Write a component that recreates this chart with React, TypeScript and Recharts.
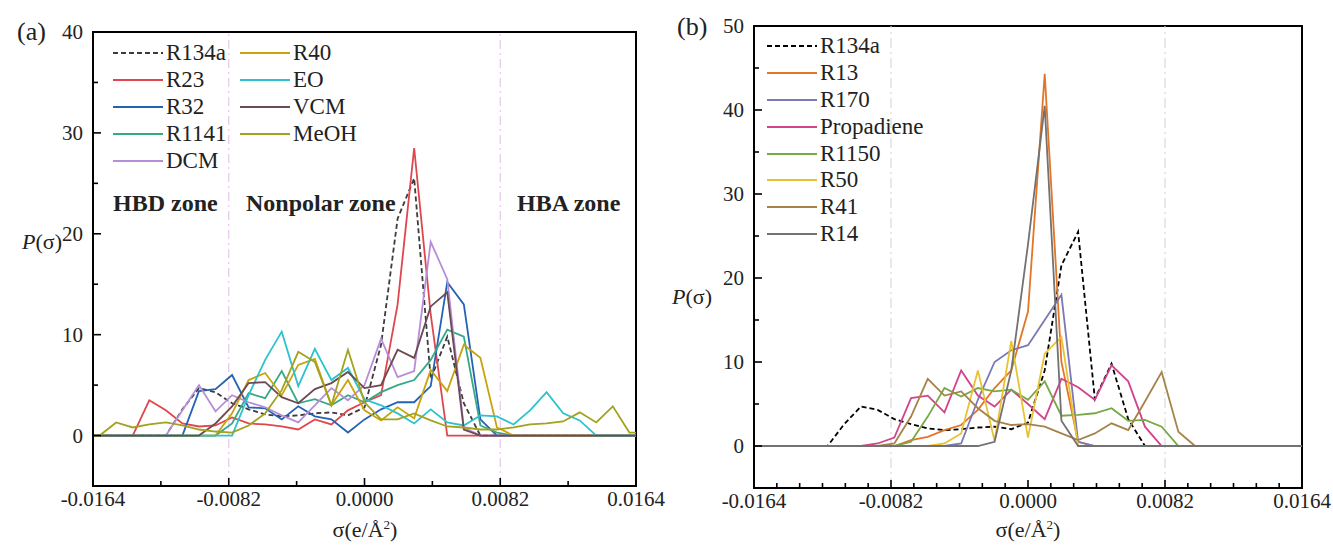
import { LineChart, Line, XAxis, YAxis, ReferenceLine, ReferenceArea, Legend } from 'recharts';

// sigma grid, e/Å²
const sigma = [-0.017, -0.016, -0.015, -0.014, -0.013, -0.012, -0.011, -0.010, -0.009, -0.008, -0.007, -0.006, -0.005, -0.004, -0.003, -0.002, -0.001, 0, 0.001, 0.002, 0.003, 0.004, 0.005, 0.006, 0.007, 0.008, 0.009, 0.010, 0.011, 0.012, 0.013, 0.014, 0.015, 0.016, 0.017];

// panel (a)
const r134a = [0, 0, 0, 0, 0, 0, 2.6, 4.7, 4.3, 3.2, 2.6, 2.1, 1.9, 2.0, 2.2, 2.3, 2.0, 2.8, 9, 21.5, 25.5, 5.6, 9.8, 3.2, 0, 0, 0, 0, 0, 0, 0, 0, 0, 0, 0];
const r23 = [0, 0, 0, 0, 3.5, 2.5, 1.2, 0.9, 1.0, 1.8, 1.2, 1.1, 0.9, 0.6, 1.6, 1.1, 2.5, 3.3, 4, 13, 28.5, 12, 0, 0, 0, 0, 0, 0, 0, 0, 0, 0, 0, 0, 0];
const r32 = [0, 0, 0, 0, 0, 0, 0, 4.4, 4.6, 6.0, 2.8, 2.7, 1.6, 2.9, 1.9, 1.6, 0.3, 1.6, 2.6, 3.3, 3.3, 4.9, 15.2, 13, 1.6, 0, 0, 0, 0, 0, 0, 0, 0, 0, 0];
const r1141 = [0, 0, 0, 0, 0, 0, 0, 0, 0, 1.2, 4.2, 3.7, 6.4, 3.2, 3.6, 3.0, 4.0, 3.3, 4.3, 5.0, 5.5, 7.5, 10.5, 9.8, 1.0, 0.3, 0, 0, 0, 0, 0, 0, 0, 0, 0];
const dcm = [0, 0, 0, 0, 0, 0, 2.5, 5.0, 2.4, 4.0, 3.3, 2.8, 2.0, 1.3, 3.0, 4.7, 3.5, 5.0, 9.6, 5.8, 6.4, 19.2, 15.5, 0.8, 0, 0, 0, 0, 0, 0, 0, 0, 0, 0, 0];
const r40 = [0, 0, 0, 0, 0, 0, 0, 0, 0, 2.2, 5.5, 6.2, 4.0, 7.0, 7.6, 3.0, 5.5, 2.5, 1.5, 2.8, 1.7, 6.5, 4.4, 9.0, 7.7, 0.8, 0, 0, 0, 0, 0, 0, 0, 0, 0];
const eo = [0, 0, 0, 0, 0, 0, 0, 0, 0, 0, 4.0, 7.5, 10.3, 4.9, 8.6, 5.5, 6.7, 3.6, 3.0, 2.2, 1.2, 2.6, 1.3, 1.0, 2.0, 1.9, 1.1, 2.5, 4.3, 2.2, 1.5, 0, 0, 0, 0];
const vcm = [0, 0, 0, 0, 0, 0, 0, 0, 1.2, 2.9, 5.2, 5.3, 3.8, 3.2, 4.6, 5.2, 6.3, 4.7, 5.0, 8.5, 7.7, 12.8, 14.2, 0.6, 0, 0, 0, 0, 0, 0, 0, 0, 0, 0, 0];
const meoh = [0, 0, 1.3, 0.8, 1.1, 1.3, 1.0, 0.6, 0.4, 0.3, 1.0, 2.2, 4.5, 8.3, 7.3, 3.0, 8.5, 3.3, 1.6, 1.6, 2.2, 1.5, 0.9, 0.8, 0.6, 0.6, 0.8, 1.1, 1.2, 1.4, 2.3, 1.3, 2.9, 0.3, 0.3];

// panel (b)
const r13 = [0, 0, 0, 0, 0, 0, 0, 0, 0, 0, 0.7, 1.1, 1.9, 2.5, 4.3, 6.9, 9.0, 16, 44.3, 10, 0.5, 0, 0, 0, 0, 0, 0, 0, 0, 0, 0, 0, 0, 0, 0];
const r170 = [0, 0, 0, 0, 0, 0, 0, 0, 0, 0, 0, 0, 0, 0.3, 5.5, 10, 11.4, 12, 15, 18, 0.5, 0, 0, 0, 0, 0, 0, 0, 0, 0, 0, 0, 0, 0, 0];
const propadiene = [0, 0, 0, 0, 0, 0, 0, 0, 0.3, 1.0, 5.7, 6.0, 4.0, 9.0, 6.0, 4.7, 6.7, 5.0, 3.2, 8.0, 7.0, 5.5, 9.6, 7.7, 2.3, 0, 0, 0, 0, 0, 0, 0, 0, 0, 0];
const r1150 = [0, 0, 0, 0, 0, 0, 0, 0, 0, 0, 0.5, 3.5, 6.9, 5.9, 6.9, 6.5, 6.7, 5.5, 7.7, 3.6, 3.7, 3.9, 4.5, 3.0, 3.1, 2.3, 0, 0, 0, 0, 0, 0, 0, 0, 0];
const r50 = [0, 0, 0, 0, 0, 0, 0, 0, 0, 0, 0, 0, 0.3, 1.5, 9.0, 0.6, 12.5, 1.0, 11, 13, 0, 0, 0, 0, 0, 0, 0, 0, 0, 0, 0, 0, 0, 0, 0];
const r41 = [0, 0, 0, 0, 0, 0, 0, 0, 0, 0.3, 3.5, 8.0, 6.0, 6.5, 4.5, 3.0, 2.5, 2.6, 2.3, 1.5, 0.7, 1.5, 2.7, 1.9, 5.3, 8.8, 1.7, 0, 0, 0, 0, 0, 0, 0, 0];
const r14 = [0, 0, 0, 0, 0, 0, 0, 0, 0, 0, 0, 0, 0, 0, 0, 0.5, 9, 24, 40.5, 3, 0, 0, 0, 0, 0, 0, 0, 0, 0, 0, 0, 0, 0, 0, 0];

const xMajor = [-0.0164, -0.0082, 0, 0.0082, 0.0164];
const xLabels = ['-0.0164', '-0.0082', '0.0000', '0.0082', '0.0164'];
const yMajorA = [0, 10, 20, 30, 40];
const yMajorB = [0, 10, 20, 30, 40, 50];

const seriesA = [
  { key: 'R134a', values: r134a, color: '#3c3c3c', dash: '5 3' },
  { key: 'R23', values: r23, color: '#e0474c' },
  { key: 'R32', values: r32, color: '#2462b4' },
  { key: 'R1141', values: r1141, color: '#35a886' },
  { key: 'DCM', values: dcm, color: '#b68ed8' },
  { key: 'R40', values: r40, color: '#c9a20e' },
  { key: 'EO', values: eo, color: '#2ec2cc' },
  { key: 'VCM', values: vcm, color: '#6c4a52' },
  { key: 'MeOH', values: meoh, color: '#a3a21e' },
];

const seriesB = [
  { key: 'R134a', values: r134a, color: '#000000', dash: '5 3' },
  { key: 'R13', values: r13, color: '#e27626' },
  { key: 'R170', values: r170, color: '#7a78b6' },
  { key: 'Propadiene', values: propadiene, color: '#d3438c' },
  { key: 'R1150', values: r1150, color: '#76a846' },
  { key: 'R50', values: r50, color: '#e9c234' },
  { key: 'R41', values: r41, color: '#a5834a' },
  { key: 'R14', values: r14, color: '#727272' },
];

const font = '"Liberation Serif", "Times New Roman", serif';

const buildRows = (series: any[]) =>
  sigma.map((s, i) => {
    const row: any = { s };
    series.forEach((d) => (row[d.key] = d.values[i]));
    return row;
  });

const near = (a: number, b: number) => Math.abs(a - b) < 1e-7;

function xTick(p: any) {
  const v = p.payload.value;
  const idx = xMajor.findIndex((m) => near(m, v));
  const major = idx >= 0;
  return (
    <g>
      <line x1={p.x} x2={p.x} y1={p.y} y2={p.y - (major ? 8 : 5)} stroke="#000" strokeWidth={1.6} />
      {major && (
        <text x={p.x} y={p.y + 20} textAnchor="middle" fontFamily={font} fontSize={21} fill="#222">
          {xLabels[idx]}
        </text>
      )}
    </g>
  );
}

function yTick(p: any, majors: number[]) {
  const v = p.payload.value;
  const major = majors.includes(v);
  return (
    <g>
      <line x1={p.x} x2={p.x + (major ? 8 : 5)} y1={p.y} y2={p.y} stroke="#000" strokeWidth={1.6} />
      {major && (
        <text x={p.x - 10} y={p.y} dy="0.35em" textAnchor="end" fontFamily={font} fontSize={21} fill="#222">
          {v}
        </text>
      )}
    </g>
  );
}

function LegendBox({ series, rows, colW }: { series: any[]; rows: number; colW: number }) {
  return (
    <div
      style={{
        display: 'grid',
        gridAutoFlow: 'column',
        gridTemplateRows: `repeat(${rows}, 26.8px)`,
        gridAutoColumns: `${colW}px`,
        fontFamily: font,
        fontSize: 23,
        color: '#222',
      }}
    >
      {series.map((d) => (
        <div key={d.key} style={{ display: 'flex', alignItems: 'center', whiteSpace: 'nowrap' }}>
          <svg width={50} height={6} style={{ display: 'block' }}>
            <line x1={0} x2={50} y1={3} y2={3} stroke={d.color} strokeWidth={2} strokeDasharray={d.dash} />
          </svg>
          <span style={{ marginLeft: 3 }}>{d.key}</span>
        </div>
      ))}
    </div>
  );
}

function Panel(props: {
  series: any[];
  yMax: number;
  yMajor: number[];
  xTicks: number[];
  width: number;
  margin: any;
  zoneColor: string;
  zoneDash: string;
  legend: any;
}) {
  const { series, yMax, yMajor, xTicks, width, margin, zoneColor, zoneDash, legend } = props;
  const rows = buildRows(series);
  const yTicks: number[] = [];
  yMajor.forEach((m, i) => {
    yTicks.push(m);
    if (i < yMajor.length - 1) yTicks.push(m + 5);
  });
  return (
    <LineChart width={width} height={545} data={rows} margin={margin}>
      <XAxis
        type="number"
        dataKey="s"
        domain={[-0.0164, 0.0164]}
        allowDataOverflow
        ticks={xTicks}
        interval={0}
        tickSize={0}
        tickMargin={0}
        height={30}
        axisLine={{ stroke: '#000', strokeWidth: 2 }}
        tickLine={false}
        tick={xTick}
      />
      <YAxis
        type="number"
        domain={[-5, yMax]}
        allowDataOverflow
        ticks={yTicks}
        interval={0}
        tickSize={0}
        tickMargin={0}
        width={40}
        axisLine={{ stroke: '#000', strokeWidth: 2 }}
        tickLine={false}
        tick={(p: any) => yTick(p, yMajor)}
      />
      <ReferenceLine x={-0.0082} stroke={zoneColor} strokeWidth={1.2} strokeDasharray={zoneDash} />
      <ReferenceLine x={0.0082} stroke={zoneColor} strokeWidth={1.2} strokeDasharray={zoneDash} />
      {series.map((d) => (
        <Line
          key={d.key}
          type="linear"
          dataKey={d.key}
          stroke={d.color}
          strokeWidth={1.8}
          strokeDasharray={d.dash}
          dot={false}
          activeDot={false}
          isAnimationActive={false}
        />
      ))}
      <ReferenceArea x1={-0.0164} x2={0.0164} y1={-5} y2={yMax} fill="none" stroke="#000" strokeWidth={2} />
      <Legend
        layout="vertical"
        align="center"
        verticalAlign="middle"
        content={() => legend}
        wrapperStyle={{ left: 0, top: 0, width: 'auto' }}
      />
    </LineChart>
  );
}

const text = (style: any, children: any) => (
  <div style={{ position: 'absolute', fontFamily: font, color: '#222', whiteSpace: 'nowrap', ...style }}>{children}</div>
);

export default function App() {
  const minorA = [-0.0123, -0.0041, 0.0041, 0.0123];
  const xTicksA = [...xMajor, ...minorA];
  const xTicksB: number[] = [...xMajor];
  xMajor.slice(0, -1).forEach((m) => {
    [1, 2, 3, 4, 5].forEach((k) => xTicksB.push(+(m + (k * 0.0082) / 6).toFixed(6)));
  });

  return (
    <div style={{ position: 'absolute', left: 0, top: 0, width: 1333, height: 545, background: '#fff', overflow: 'hidden' }}>
      <div style={{ position: 'absolute', left: 0, top: 0 }}>
        <Panel
          series={seriesA}
          yMax={40}
          yMajor={yMajorA}
          xTicks={xTicksA}
          width={690}
          margin={{ top: 32, right: 54, bottom: 29, left: 53 }}
          zoneColor="#e6c6ea"
          zoneDash="9 4 2 4"
          legend={<div style={{ position: 'absolute', left: 113, top: 40 }}><LegendBox series={seriesA} rows={5} colW={127} /></div>}
        />
      </div>
      <div style={{ position: 'absolute', left: 660, top: 0 }}>
        <Panel
          series={seriesB}
          yMax={50}
          yMajor={yMajorB}
          xTicks={xTicksB}
          width={673}
          margin={{ top: 26, right: 31, bottom: 27, left: 54 }}
          zoneColor="#d9d9d9"
          zoneDash="10 4 2 4"
          legend={<div style={{ position: 'absolute', left: 107, top: 33 }}><LegendBox series={seriesB} rows={8} colW={200} /></div>}
        />
      </div>

      {text({ left: 17, top: 17, fontSize: 26, lineHeight: '30px' }, '(a)')}
      {text({ left: 677, top: 12, fontSize: 26, lineHeight: '30px' }, '(b)')}
      {text({ left: 22, top: 228, fontSize: 22, lineHeight: '28px' }, <><i>P</i>(σ)</>)}
      {text({ left: 672, top: 283, fontSize: 22, lineHeight: '28px' }, <><i>P</i>(σ)</>)}
      {text({ left: 265, width: 200, textAlign: 'center', top: 511, fontSize: 22, lineHeight: '28px' }, <>σ(e/Å<sup style={{ fontSize: 13 }}>2</sup>)</>)}
      {text({ left: 928, width: 200, textAlign: 'center', top: 511, fontSize: 22, lineHeight: '28px' }, <>σ(e/Å<sup style={{ fontSize: 13 }}>2</sup>)</>)}
      {text({ left: 113, top: 188, fontSize: 24, fontWeight: 'bold', lineHeight: '30px' }, 'HBD zone')}
      {text({ left: 246, top: 188, fontSize: 24, fontWeight: 'bold', lineHeight: '30px' }, 'Nonpolar zone')}
      {text({ left: 517, top: 188, fontSize: 24, fontWeight: 'bold', lineHeight: '30px' }, 'HBA zone')}
    </div>
  );
}
